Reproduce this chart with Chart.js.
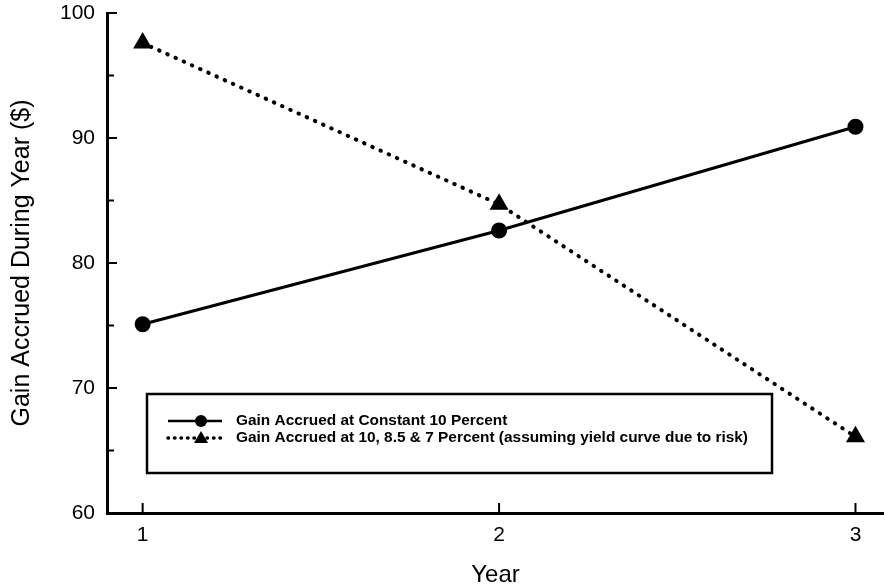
<!DOCTYPE html>
<html>
<head>
<meta charset="utf-8">
<script src="https://cdn.jsdelivr.net/npm/chart.js@4/dist/chart.umd.min.js"></script>
<style>
  html, body { margin: 0; padding: 0; background: #fff; }
  #wrap { width: 884px; height: 588px; }
</style>
</head>
<body>
<div id="wrap"><canvas id="gainChart" width="884" height="588"></canvas></div>
<script>
// ==== data ====
const years = [1, 2, 3];
const constantGain = [75.1, 82.6, 90.9];
const curveGain = [97.6, 84.7, 66.1];
const seriesNames = [
  "Gain Accrued at Constant 10 Percent",
  "Gain Accrued at 10, 8.5 & 7 Percent (assuming yield curve due to risk)"
];
const yTicks = [60, 70, 80, 90, 100];
const yMinorTicks = [65, 75, 85, 95];

const FONT = "'Liberation Sans', Arial, Helvetica, sans-serif";

// ticks on the inside of the axes, plus the boxed legend
const innerTicks = {
  id: 'innerTicks',
  afterDraw(chart) {
    const ctx = chart.ctx;
    const x = chart.scales.x, y = chart.scales.y;
    ctx.save();
    ctx.strokeStyle = '#000';
    ctx.lineWidth = 2;
    yTicks.concat(yMinorTicks).forEach(v => {
      const py = y.getPixelForValue(v);
      const len = yTicks.includes(v) ? 10 : 7;
      ctx.beginPath();
      ctx.moveTo(x.left, py);
      ctx.lineTo(x.left + len, py);
      ctx.stroke();
    });
    years.forEach(v => {
      const px = x.getPixelForValue(v);
      ctx.beginPath();
      ctx.moveTo(px, y.bottom);
      ctx.lineTo(px, y.bottom - 10);
      ctx.stroke();
    });
    ctx.restore();
  }
};

const boxLegend = {
  id: 'boxLegend',
  afterDraw(chart) {
    const ctx = chart.ctx;
    ctx.save();
    ctx.strokeStyle = '#000';
    ctx.lineWidth = 2.5;
    ctx.strokeRect(147, 394, 625, 79);

    const rows = [421, 438];
    const lx0 = 168, lx1 = 222, mx = 201;
    // solid sample
    ctx.lineWidth = 2.5;
    ctx.beginPath();
    ctx.moveTo(lx0, rows[0]);
    ctx.lineTo(lx1, rows[0]);
    ctx.stroke();
    ctx.fillStyle = '#000';
    ctx.beginPath();
    ctx.arc(mx, rows[0], 6, 0, Math.PI * 2);
    ctx.fill();
    // dotted sample
    ctx.lineWidth = 3.5;
    ctx.lineCap = 'round';
    ctx.setLineDash([0.5, 6]);
    ctx.beginPath();
    ctx.moveTo(lx0, rows[1]);
    ctx.lineTo(lx1, rows[1]);
    ctx.stroke();
    ctx.setLineDash([]);
    ctx.beginPath();
    ctx.moveTo(mx, rows[1] - 7);
    ctx.lineTo(mx + 7, rows[1] + 5);
    ctx.lineTo(mx - 7, rows[1] + 5);
    ctx.closePath();
    ctx.fill();

    // texts, squeezed/stretched to the width of the original narrow face
    ctx.font = 'bold 15px ' + FONT;
    ctx.textBaseline = 'middle';
    ctx.textAlign = 'left';
    const w2 = ctx.measureText(seriesNames[1]).width;
    const sx = 512 / w2;
    seriesNames.forEach((t, i) => {
      ctx.save();
      ctx.translate(236, rows[i]);
      ctx.scale(sx, 1);
      ctx.fillText(t, 0, 0);
      ctx.restore();
    });
    ctx.restore();
  }
};

new Chart(document.getElementById('gainChart'), {
  type: 'line',
  data: {
    datasets: [
      {
        label: seriesNames[0],
        data: years.map((v, i) => ({ x: v, y: constantGain[i] })),
        borderColor: '#000',
        backgroundColor: '#000',
        borderWidth: 3,
        pointStyle: 'circle',
        pointRadius: 6.5,
        pointBackgroundColor: '#000',
        pointBorderColor: '#000',
        tension: 0
      },
      {
        label: seriesNames[1],
        data: years.map((v, i) => ({ x: v, y: curveGain[i] })),
        borderColor: '#000',
        backgroundColor: '#000',
        borderWidth: 4,
        borderDash: [0.5, 8.5],
        borderCapStyle: 'round',
        pointStyle: 'triangle',
        pointRadius: 7,
        pointBackgroundColor: '#000',
        pointBorderColor: '#000',
        tension: 0
      }
    ]
  },
  options: {
    responsive: false,
    animation: false,
    clip: false,
    layout: { autoPadding: false, padding: { top: 13, right: 0, left: 0, bottom: 0 } },
    plugins: { legend: { display: false }, tooltip: { enabled: false } },
    scales: {
      x: {
        type: 'linear',
        min: 0.9,
        max: 3.08,
        afterBuildTicks: s => { s.ticks = years.map(v => ({ value: v })); },
        afterFit: s => { s.height = 75; s.paddingLeft = 0; s.paddingRight = 0; },
        grid: { display: true, drawOnChartArea: false, drawTicks: false },
        border: { display: true, color: '#000', width: 3 },
        ticks: { color: '#000', padding: 10, font: { family: FONT, size: 21 } },
        title: {
          display: true, text: 'Year', color: '#000',
          font: { family: FONT, size: 24 }, padding: { top: 0, bottom: -2 }
        }
      },
      y: {
        min: 60,
        max: 100,
        afterBuildTicks: s => { s.ticks = yTicks.map(v => ({ value: v })); },
        afterFit: s => { s.width = 107; s.paddingTop = 0; s.paddingBottom = 0; },
        grid: { display: true, drawOnChartArea: false, drawTicks: false },
        border: { display: true, color: '#000', width: 3 },
        ticks: { color: '#000', padding: 12, font: { family: FONT, size: 21 } },
        title: {
          display: true, text: 'Gain Accrued During Year ($)', color: '#000',
          font: { family: FONT, size: 25 }, padding: { top: 7, bottom: 0 }
        }
      }
    }
  },
  plugins: [innerTicks, boxLegend]
});
</script>
</body>
</html>
